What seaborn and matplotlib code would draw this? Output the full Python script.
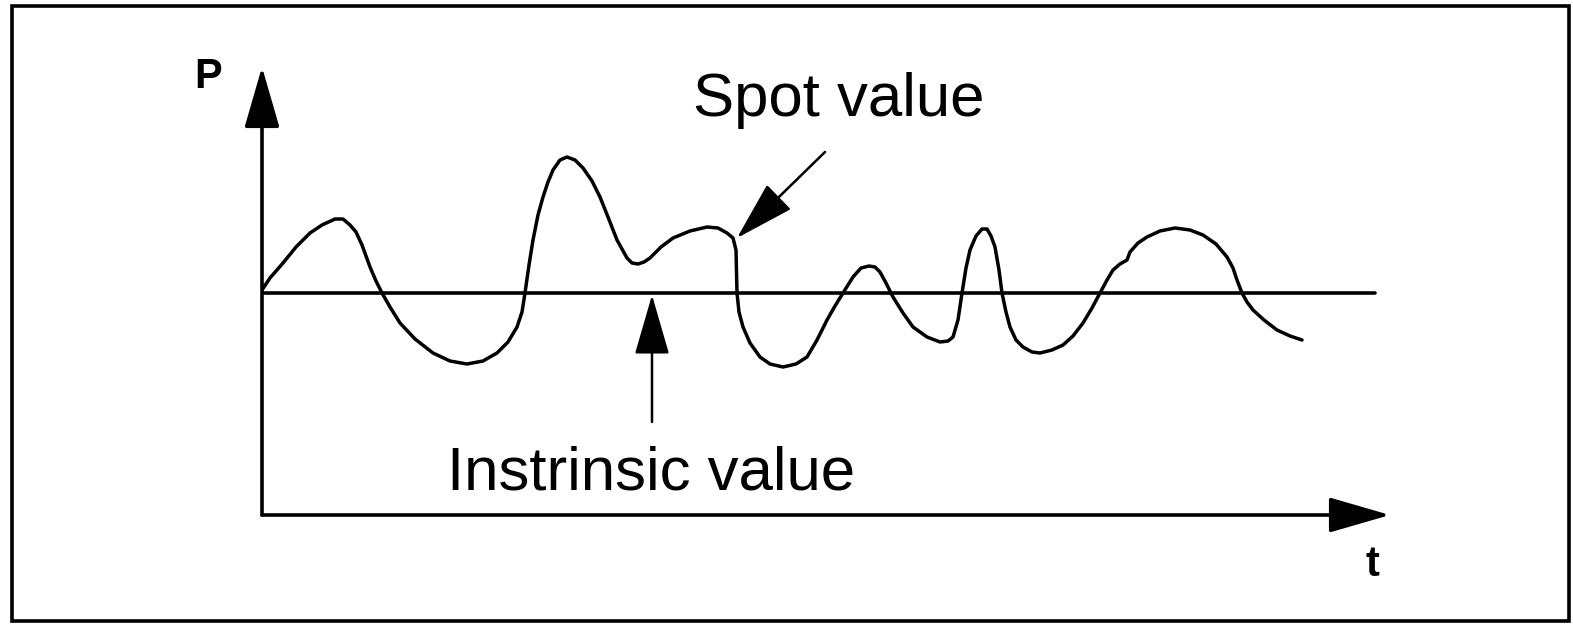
import matplotlib
matplotlib.use("Agg")
import matplotlib.pyplot as plt
from matplotlib.patches import Rectangle
import seaborn as sns
import pandas as pd

# Spot price path (arbitrary units); intrinsic value is a flat level
t_vals = [0, 8, 21, 34, 48, 60, 73, 81, 88, 94,
          100, 108, 114, 120, 128, 138, 153, 171, 188, 205,
          221, 235, 246, 255, 260, 263, 267, 271, 276, 281,
          286, 291, 298, 305, 313, 321, 330, 338, 346, 355,
          365, 370, 376, 382, 388, 399, 411, 428, 445, 456,
          465, 471, 474, 475, 477, 481, 488, 498, 508, 521,
          534, 545, 555, 565, 573, 581, 591, 599, 607, 613,
          618, 624, 631, 641, 651, 665, 678, 686, 691, 696,
          700, 704, 708, 714, 720, 725, 729, 733, 737, 740,
          744, 748, 754, 761, 770, 778, 790, 801, 811, 821,
          830, 838, 845, 851, 858, 865, 868, 876, 885, 898,
          913, 928, 941, 954, 965, 971, 975, 980, 985, 991,
          1002, 1015, 1028, 1040]
spot_vals = [225, 237, 252, 268, 282, 290, 296, 296, 290, 283,
             270, 248, 234, 222, 208, 192, 176, 162, 154, 151,
             154, 162, 173, 188, 203, 222, 250, 275, 300, 318,
             333, 345, 355, 358, 355, 347, 334, 318, 298, 275,
             257, 252, 251, 253, 257, 268, 277, 284, 288, 287,
             282, 277, 265, 222, 203, 188, 172, 158, 151, 148,
             151, 158, 175, 195, 209, 222, 238, 247, 249, 248,
             243, 232, 218, 202, 188, 178, 173, 174, 178, 195,
             222, 247, 265, 279, 286, 286, 279, 268, 245, 222,
             203, 188, 175, 168, 163, 162, 165, 170, 179, 192,
             207, 222, 235, 245, 251, 255, 263, 272, 278, 284,
             287, 285, 280, 271, 258, 247, 235, 222, 213, 205,
             195, 185, 179, 175]
intrinsic_level = 222
intrinsic_span = [0, 1113]

# annotation anchors (tip, tail)
spot_tip, spot_tail = (475, 277), (563, 363)
intr_tip, intr_tail = (390, 220), (390, 93)

df = pd.DataFrame({"t": t_vals, "P": spot_vals})

sns.set_style("white")
plt.rcParams["font.family"] = ["Liberation Sans", "DejaVu Sans"]
plt.rcParams["text.color"] = "black"

fig = plt.figure(figsize=(15.73, 6.24), dpi=100)
ax = fig.add_axes([262 / 1573, 109 / 624, 1128 / 1573, 448 / 624])

sns.lineplot(data=df, x="t", y="P", sort=False, color="black", lw=2.5, ax=ax,
             solid_joinstyle="round", solid_capstyle="round")
ax.plot(intrinsic_span, [intrinsic_level] * 2, color="black", lw=2.6)

ax.set_xlim(0, 1128)
ax.set_ylim(0, 448)
ax.set_xticks([])
ax.set_yticks([])
ax.set_xlabel("")
ax.set_ylabel("")
for s in ax.spines.values():
    s.set_visible(False)

# axis arrows
head = "-|>,head_length=38,head_width=11"
for end in [(0, 1), (1, 0)]:
    ax.annotate("", xy=end, xytext=(0, 0), xycoords="axes fraction",
                arrowprops=dict(arrowstyle=head, color="black", lw=2.6,
                                mutation_scale=1, shrinkA=0, shrinkB=0))

# pointer arrows
for tip, tail in [(spot_tip, spot_tail), (intr_tip, intr_tail)]:
    ax.annotate("", xy=tip, xytext=tail,
                arrowprops=dict(arrowstyle=head, color="black", lw=1.8,
                                mutation_scale=1, shrinkA=0, shrinkB=0))

# labels
ax.text(577, 399, "Spot value", fontsize=44.5, ha="center", va="baseline")
ax.text(389, 26, "Instrinsic value", fontsize=44.5, ha="center", va="baseline")
ax.text(-54, 438, "P", fontsize=30, fontweight="bold", ha="center", va="center")
ax.text(1110, -50, "t", fontsize=30, fontweight="bold", ha="center", va="center")

# outer frame
fig.patches.append(Rectangle((12 / 1573, 3 / 624), 1557 / 1573, 615 / 624,
                             transform=fig.transFigure, fill=False,
                             edgecolor="black", lw=2.6))

fig.savefig("out.png", dpi=100, facecolor="white")
